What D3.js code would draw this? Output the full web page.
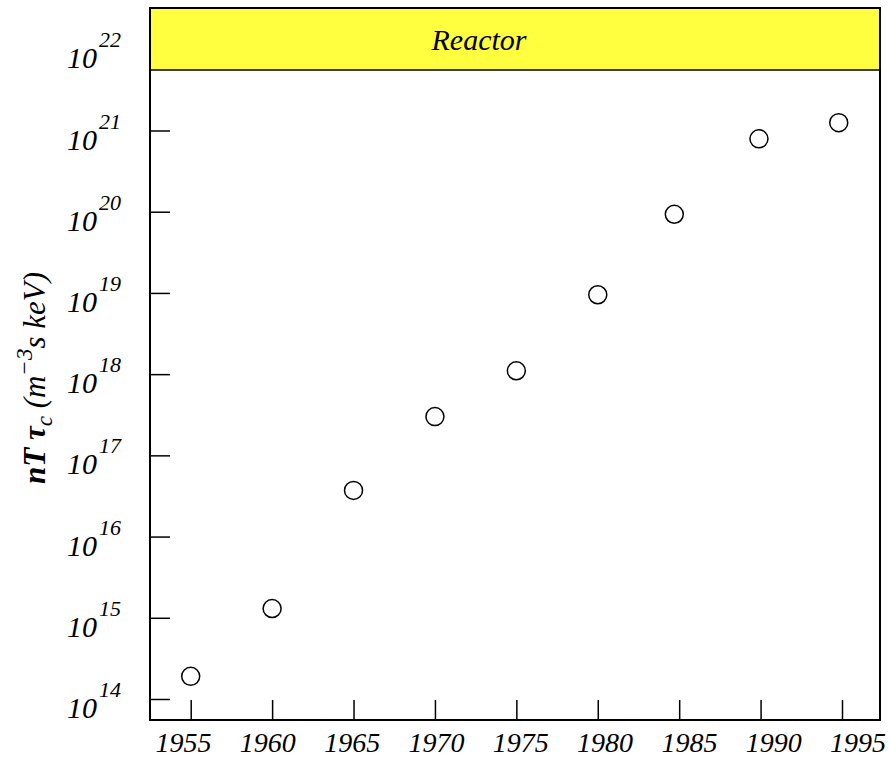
<!DOCTYPE html>
<html>
<head>
<meta charset="utf-8">
<script src="https://cdn.jsdelivr.net/npm/d3@7"></script>
<style>
  body { margin: 0; background: #fff; }
  text { font-family: "Liberation Serif", "Times New Roman", serif; font-style: italic; fill: #000; }
</style>
</head>
<body>
<div id="chart"></div>
<script>
// data
const years = [1955, 1960, 1965, 1970, 1975, 1980, 1984.7, 1989.9, 1994.8]
const nTtau = [1.9e14, 1.3e15, 3.7e16, 3.0e17, 1.1e18, 9.5e18, 9.3e19, 7.9e20, 1.25e21]
const xTicks = [1955, 1960, 1965, 1970, 1975, 1980, 1985, 1990, 1995]
const yExponents = [14, 15, 16, 17, 18, 19, 20, 21, 22]
const bandLabel = "Reactor"

const width = 890
const height = 758
const box = { left: 150, top: 8, right: 880, bottom: 720 }

const svg = d3.select("#chart")
  .append("svg")
  .attr("width", width)
  .attr("height", height)

// scales
const x = d3.scaleLinear()
  .domain([1955, 1995])
  .range([190.7, 842])

// labels sit a bit wider apart than the ticks in the original
const xLabel = d3.scaleLinear()
  .domain([1955, 1995])
  .range([183.5, 858])

const y = d3.scaleLog()
  .domain([1e14, 1e21])
  .range([699, 130.5])

// reactor band
const bandBottom = 70
svg.append("rect")
  .attr("x", box.left)
  .attr("y", box.top)
  .attr("width", box.right - box.left)
  .attr("height", bandBottom - box.top)
  .attr("fill", "#ffff40")

svg.append("line")
  .attr("x1", box.left).attr("x2", box.right)
  .attr("y1", bandBottom).attr("y2", bandBottom)
  .attr("stroke", "#000")
  .attr("stroke-width", 1.5)

svg.append("text")
  .attr("x", 479)
  .attr("y", 50)
  .attr("text-anchor", "middle")
  .attr("font-size", 30)
  .text(bandLabel)

// y ticks (inward), skip the one inside the band
const yAxis = d3.axisRight(y)
  .tickValues(yExponents.filter(e => e <= 21).map(e => Math.pow(10, e)))
  .tickSize(20)
  .tickFormat("")
const yg = svg.append("g")
  .attr("transform", `translate(${box.left},0)`)
  .call(yAxis)
yg.select(".domain").remove()
yg.selectAll(".tick line").attr("stroke", "#000").attr("stroke-width", 1.5)

// y tick labels as 10^n
const yLab = svg.append("g")
yExponents.forEach(e => {
  const ty = y(Math.pow(10, e))
  yLab.append("text")
    .attr("x", 97)
    .attr("y", ty + 19)
    .attr("text-anchor", "end")
    .attr("font-size", 30)
    .text("10")
  yLab.append("text")
    .attr("x", 99)
    .attr("y", ty - 2)
    .attr("font-size", 22)
    .text(e)
})

// x ticks (inward)
const xAxis = d3.axisTop(x)
  .tickValues(xTicks)
  .tickSize(20)
  .tickFormat("")
const xg = svg.append("g")
  .attr("transform", `translate(0,${box.bottom})`)
  .call(xAxis)
xg.select(".domain").remove()
xg.selectAll(".tick line").attr("stroke", "#000").attr("stroke-width", 1.5)

svg.append("g")
  .selectAll("text")
  .data(xTicks)
  .join("text")
  .attr("x", d => xLabel(d))
  .attr("y", 752)
  .attr("text-anchor", "middle")
  .attr("font-size", 28)
  .text(d => d)

// frame
svg.append("rect")
  .attr("x", box.left)
  .attr("y", box.top)
  .attr("width", box.right - box.left)
  .attr("height", box.bottom - box.top)
  .attr("fill", "none")
  .attr("stroke", "#000")
  .attr("stroke-width", 2)

// points
svg.append("g")
  .selectAll("circle")
  .data(years.map((yr, i) => ({ yr, v: nTtau[i] })))
  .join("circle")
  .attr("cx", d => x(d.yr))
  .attr("cy", d => y(d.v))
  .attr("r", 9)
  .attr("fill", "none")
  .attr("stroke", "#000")
  .attr("stroke-width", 1.5)

// y axis title
const title = svg.append("text")
  .attr("transform", "translate(45,378) rotate(-90)")
  .attr("text-anchor", "middle")
  .attr("font-size", 31)
title.append("tspan").attr("font-weight", "bold").text("nT τ")
title.append("tspan").attr("font-size", 23).attr("dy", 7).text("c")
title.append("tspan").attr("dy", -7).text(" (m")
title.append("tspan").attr("font-size", 23).attr("dy", -13).text("−3")
title.append("tspan").attr("dy", 13).text("s keV)")
</script>
</body>
</html>
